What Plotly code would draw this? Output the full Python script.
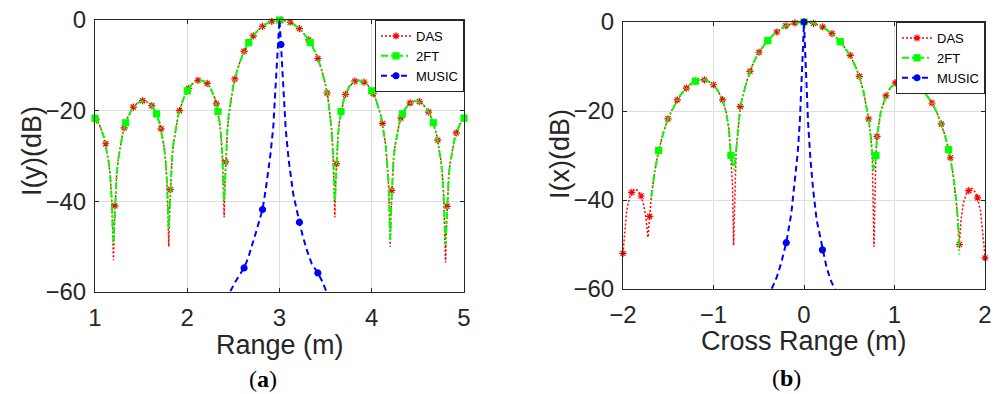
import plotly.graph_objects as go

FONT = "Liberation Sans, Arial, sans-serif"
INK = "#262626"
RED, GREEN, BLUE = "#ff0000", "#00ff00", "#0000ff"
SERIES = ["DAS", "2FT", "MUSIC"]

# ---------------- (a) Range profile ----------------
range_x = [1.00, 1.05, 1.10, 1.15, 1.165, 1.18, 1.19, 1.20, 1.21, 1.22,
           1.235, 1.25, 1.30, 1.35, 1.40, 1.45, 1.50, 1.55, 1.60, 1.65,
           1.70, 1.75, 1.765, 1.78, 1.79, 1.80, 1.81, 1.82, 1.835, 1.85,
           1.90, 1.95, 2.00, 2.05, 2.10, 2.15, 2.20, 2.25, 2.30, 2.35,
           2.365, 2.38, 2.39, 2.40, 2.41, 2.42, 2.435, 2.45, 2.475, 2.50,
           2.55, 2.60, 2.65, 2.70, 2.75, 2.80, 2.85, 2.90, 2.95, 3.00,
           3.05, 3.10, 3.15, 3.20, 3.25, 3.30, 3.35, 3.40, 3.45, 3.50,
           3.525, 3.55, 3.565, 3.58, 3.59, 3.60, 3.61, 3.62, 3.635, 3.65,
           3.70, 3.75, 3.80, 3.85, 3.90, 3.95, 4.00, 4.05, 4.10, 4.15,
           4.165, 4.18, 4.19, 4.20, 4.21, 4.22, 4.235, 4.25, 4.30, 4.35,
           4.40, 4.45, 4.50, 4.55, 4.60, 4.65, 4.70, 4.75, 4.765, 4.78,
           4.79, 4.80, 4.81, 4.82, 4.835, 4.85, 4.90, 4.95, 5.00]
range_das = [-21.65, -23.2, -26.0, -31.5, -34.4, -39.2, -45.2, -53.0, -45.1, -39.0,
             -34.1, -31.0, -25.0, -21.7, -19.7, -18.5, -17.9, -17.9, -18.55, -20.0,
             -22.7, -28.1, -31.0, -35.7, -41.7, -50.0, -41.5, -35.4, -30.5, -27.3,
             -21.2, -17.8, -15.6, -14.2, -13.5, -13.3, -13.7, -14.9, -17.3, -22.4,
             -25.2, -29.8, -35.7, -43.5, -35.4, -29.3, -24.2, -20.9, -17.1, -14.4,
             -10.5, -7.67, -5.56, -3.92, -2.64, -1.65, -0.91, -0.40, -0.10, 0.0,
             -0.10, -0.40, -0.91, -1.65, -2.64, -3.92, -5.56, -7.67, -10.5, -14.4,
             -17.1, -20.9, -24.2, -29.3, -35.4, -43.5, -35.7, -29.8, -25.2, -22.4,
             -17.3, -14.9, -13.7, -13.3, -13.5, -14.2, -15.6, -17.8, -21.2, -27.3,
             -30.5, -35.4, -41.5, -50.0, -41.7, -35.7, -31.0, -28.1, -22.7, -20.0,
             -18.55, -17.9, -17.9, -18.5, -19.7, -21.7, -25.0, -31.0, -34.1, -39.0,
             -45.1, -53.5, -45.2, -39.2, -34.4, -31.5, -26.0, -23.2, -21.65]
range_2ft = [-21.65, -23.2, -26.0, -31.5, -34.4, -39.2, -45.2, -49.0, -45.1, -39.0,
             -34.1, -31.0, -25.0, -21.7, -19.7, -18.5, -17.9, -17.9, -18.55, -20.0,
             -22.7, -28.1, -31.0, -35.7, -41.7, -46.2, -41.5, -35.4, -30.5, -27.3,
             -21.2, -17.8, -15.6, -14.2, -13.5, -13.3, -13.7, -14.9, -17.3, -22.4,
             -25.2, -29.8, -35.7, -40.0, -35.4, -29.3, -24.2, -20.9, -17.1, -14.4,
             -10.5, -7.67, -5.56, -3.92, -2.64, -1.65, -0.91, -0.40, -0.10, 0.0,
             -0.10, -0.40, -0.91, -1.65, -2.64, -3.92, -5.56, -7.67, -10.5, -14.4,
             -17.1, -20.9, -24.2, -29.3, -35.4, -40.0, -35.7, -29.8, -25.2, -22.4,
             -17.3, -14.9, -13.7, -13.3, -13.5, -14.2, -15.6, -17.8, -21.2, -27.3,
             -30.5, -35.4, -41.5, -48.5, -41.7, -35.7, -31.0, -28.1, -22.7, -20.0,
             -18.55, -17.9, -17.9, -18.5, -19.7, -21.7, -25.0, -31.0, -34.1, -39.0,
             -45.1, -49.6, -45.2, -39.2, -34.4, -31.5, -26.0, -23.2, -21.65]
range_das_mk_x = [1.016, 1.116, 1.216, 1.316, 1.416, 1.516, 1.616, 1.716, 1.816, 1.916,
                  2.016, 2.116, 2.216, 2.316, 2.416, 2.516, 2.616, 2.716, 2.816, 2.916,
                  3.016, 3.116, 3.216, 3.316, 3.416, 3.516, 3.616, 3.716, 3.816, 3.916,
                  4.016, 4.116, 4.216, 4.316, 4.416, 4.516, 4.616, 4.716, 4.816, 4.916]
range_das_mk_y = [-22.0, -27.3, -41.0, -23.8, -19.2, -17.8, -18.9, -24.0, -37.4, -20.0,
                  -15.1, -13.3, -14.0, -18.5, -31.3, -13.0, -6.9, -3.5, -1.4, -0.3,
                  0.0, -0.5, -1.9, -4.4, -8.5, -16.1, -31.7, -16.4, -13.5, -13.7,
                  -16.2, -22.8, -37.6, -21.6, -18.3, -18.0, -20.3, -26.5, -41.1, -24.9]
range_2ft_mk_x = [1.0, 1.333, 1.667, 2.0, 2.333, 2.667, 3.0, 3.333, 3.667, 4.0, 4.333, 4.667, 5.0]
range_2ft_mk_y = [-21.65, -22.66, -20.72, -15.64, -20.18, -4.97, 0.0, -4.97, -20.18, -15.64,
                  -20.72, -22.66, -21.65]
range_music_x = [2.40, 2.463, 2.52, 2.566, 2.616, 2.66, 2.70, 2.75, 2.816, 2.85,
                 2.90, 2.933, 2.96, 2.984, 3.0, 3.016, 3.04, 3.067, 3.10, 3.15,
                 3.216, 3.25, 3.30, 3.35, 3.416, 3.46, 3.511, 3.56]
range_music = [-64.0, -60.0, -57.8, -56.3, -54.7, -52.5, -50.0, -46.5, -41.8, -37.5,
               -30.0, -23.5, -13.7, -5.4, 0.0, -5.4, -13.7, -24.0, -31.0, -38.5,
               -44.6, -47.5, -51.0, -53.8, -55.8, -57.5, -60.0, -63.0]
range_music_mk_x = [2.616, 2.816, 3.016, 3.216, 3.416]
range_music_mk_y = [-54.7, -41.8, -5.4, -44.6, -55.8]

# ---------------- (b) Cross-range profile ----------------
cross_das_x = [-2.0, -1.98, -1.96, -1.93, -1.904, -1.87, -1.84, -1.80, -1.77, -1.745,
               -1.724, -1.706, -1.687, -1.65, -1.606, -1.55, -1.503, -1.45, -1.40, -1.35,
               -1.30, -1.25, -1.20, -1.15, -1.10, -1.05, -1.00, -0.95, -0.90, -0.86,
               -0.83, -0.807, -0.79, -0.778, -0.765, -0.75, -0.704, -0.65, -0.597, -0.55,
               -0.497, -0.45, -0.40, -0.35, -0.30, -0.25, -0.20, -0.15, -0.10, -0.05,
               0.0, 0.05, 0.106, 0.15, 0.206, 0.25, 0.309, 0.35, 0.40, 0.45,
               0.511, 0.56, 0.611, 0.66, 0.714, 0.74, 0.755, 0.773, 0.785, 0.795,
               0.807, 0.85, 0.906, 0.95, 1.009, 1.06, 1.108, 1.15, 1.20, 1.25,
               1.315, 1.36, 1.414, 1.47, 1.517, 1.56, 1.598, 1.617, 1.65, 1.68,
               1.70, 1.717, 1.735, 1.76, 1.79, 1.82, 1.856, 1.89, 1.918, 1.95,
               1.975, 1.99, 2.0]
cross_das = [-52.0, -46.5, -42.5, -39.6, -38.3, -37.5, -37.8, -39.1, -41.2, -44.2,
             -48.4, -43.7, -39.3, -33.6, -28.9, -24.6, -21.75, -19.4, -17.5, -16.0,
             -14.85, -13.9, -13.3, -13.0, -13.0, -13.4, -14.1, -15.5, -17.5, -20.3,
             -24.0, -30.0, -36.5, -50.2, -36.5, -29.0, -19.0, -14.6, -11.1, -8.8,
             -6.8, -5.4, -4.2, -3.1, -2.25, -1.5, -0.85, -0.45, -0.2, -0.05,
             0.0, -0.05, -0.3, -0.6, -1.1, -1.7, -2.6, -3.4, -4.4, -5.8,
             -7.5, -9.6, -12.2, -15.8, -21.8, -26.0, -31.0, -50.5, -35.0, -30.0,
             -25.7, -20.0, -16.6, -14.9, -13.7, -13.2, -13.0, -13.2, -13.7, -14.4,
             -15.4, -16.6, -18.2, -20.4, -22.9, -25.6, -28.7, -30.5, -34.6, -39.6,
             -44.0, -50.0, -44.5, -40.8, -38.8, -37.9, -37.4, -38.2, -39.5, -42.5,
             -46.8, -50.5, -53.0]
cross_das_mk_x = [-2.0, -1.904, -1.80, -1.706, -1.606, -1.503, -1.40, -1.30, -1.20, -1.10,
                  -1.00, -0.90, -0.807, -0.704, -0.597, -0.497, -0.40, -0.30, -0.20, -0.10,
                  0.0, 0.106, 0.206, 0.309, 0.40, 0.511, 0.611, 0.714, 0.807, 0.906,
                  1.009, 1.108, 1.20, 1.315, 1.414, 1.517, 1.617, 1.717, 1.82, 1.918, 2.0]
cross_das_mk_y = [-52.0, -38.3, -39.1, -43.7, -28.9, -21.75, -17.5, -14.85, -13.3, -13.0,
                  -14.1, -17.5, -30.0, -19.0, -11.1, -6.8, -4.2, -2.25, -0.85, -0.2,
                  0.0, -0.3, -1.1, -2.6, -4.4, -7.5, -12.2, -21.8, -25.7, -16.6,
                  -13.7, -13.0, -13.7, -15.4, -18.2, -22.9, -30.5, -50.0, -37.9, -39.5, -53.0]
cross_2ft_x = [-1.687, -1.65, -1.606, -1.55, -1.503, -1.45, -1.40, -1.35, -1.30, -1.25,
               -1.20, -1.15, -1.10, -1.05, -1.00, -0.95, -0.90, -0.86, -0.83, -0.807,
               -0.79, -0.772, -0.755, -0.704, -0.65, -0.597, -0.55, -0.497, -0.45, -0.40,
               -0.35, -0.30, -0.25, -0.20, -0.15, -0.10, -0.05, 0.0, 0.05, 0.106,
               0.15, 0.206, 0.25, 0.309, 0.35, 0.40, 0.45, 0.511, 0.56, 0.611,
               0.66, 0.714, 0.74, 0.755, 0.77, 0.783, 0.795, 0.807, 0.85, 0.906,
               0.95, 1.009, 1.06, 1.108, 1.15, 1.20, 1.25, 1.315, 1.36, 1.414,
               1.47, 1.517, 1.56, 1.598, 1.617, 1.65, 1.68, 1.70, 1.717]
cross_2ft = [-39.3, -33.6, -28.9, -24.6, -21.75, -19.4, -17.5, -16.0, -14.85, -13.9,
             -13.3, -13.0, -13.0, -13.4, -14.1, -15.5, -17.5, -20.3, -24.0, -30.0,
             -31.8, -33.2, -30.0, -19.0, -14.6, -11.1, -8.8, -6.8, -5.4, -4.2,
             -3.1, -2.25, -1.5, -0.85, -0.45, -0.2, -0.05, 0.0, -0.05, -0.3,
             -0.6, -1.1, -1.7, -2.6, -3.4, -4.4, -5.8, -7.5, -9.6, -12.2,
             -15.8, -21.8, -26.0, -31.0, -33.4, -32.0, -30.0, -25.7, -20.0, -16.6,
             -14.9, -13.7, -13.2, -13.0, -13.2, -13.7, -14.4, -15.4, -16.6, -18.2,
             -20.4, -22.9, -25.6, -28.7, -30.5, -34.6, -39.6, -44.5, -52.3]
cross_2ft_mk_x = [-1.606, -1.20, -0.807, -0.40, 0.0, 0.40, 0.795, 1.20, 1.598]
cross_2ft_mk_y = [-28.9, -13.3, -30.0, -4.2, 0.0, -4.4, -30.0, -13.7, -28.7]
cross_music_x = [-0.40, -0.357, -0.30, -0.25, -0.196, -0.14, -0.10, -0.07, -0.045, -0.025,
                 -0.01, 0.0, 0.01, 0.025, 0.045, 0.07, 0.10, 0.14, 0.204, 0.25,
                 0.30, 0.343, 0.40]
cross_music = [-62.0, -60.0, -57.3, -54.0, -49.6, -43.0, -36.0, -29.5, -22.0, -12.5,
               -5.0, 0.0, -5.0, -12.5, -22.5, -30.5, -37.5, -44.5, -51.2, -55.2,
               -58.3, -60.0, -63.0]
cross_music_mk_x = [-0.196, 0.0, 0.204]
cross_music_mk_y = [-49.6, 0.0, -51.2]

for a, b in [(range_x, range_das), (range_x, range_2ft), (range_das_mk_x, range_das_mk_y),
             (range_2ft_mk_x, range_2ft_mk_y), (range_music_x, range_music),
             (cross_das_x, cross_das), (cross_das_mk_x, cross_das_mk_y),
             (cross_2ft_x, cross_2ft), (cross_music_x, cross_music)]:
    assert len(a) == len(b), (len(a), len(b))

STYLE = {
    "DAS": dict(color=RED, width=1.5, dash="2px,2px", symbol="asterisk-open", size=6),
    "2FT": dict(color=GREEN, width=2, dash="7px,3px,2px,3px", symbol="square", size=6),
    "MUSIC": dict(color=BLUE, width=2, dash="6px,4px", symbol="circle", size=6),
}

fig = go.Figure()


def add_series(name, lx, ly, mx, my, xa, ya, legend):
    s = STYLE[name]
    line = dict(color=s["color"], width=s["width"], dash=s["dash"])
    marker = dict(color=s["color"], symbol=s["symbol"], size=s["size"],
                  line=dict(color=s["color"], width=1.2))
    fig.add_trace(go.Scatter(x=lx, y=ly, mode="lines", line=line, xaxis=xa, yaxis=ya,
                             showlegend=False, hoverinfo="skip"))
    fig.add_trace(go.Scatter(x=mx, y=my, mode="markers", marker=marker, xaxis=xa, yaxis=ya,
                             showlegend=False, cliponaxis=False, hoverinfo="skip"))
    fig.add_trace(go.Scatter(x=[None], y=[None], mode="lines+markers", name=name,
                             line=line, marker=marker, xaxis=xa, yaxis=ya, legend=legend))


add_series("DAS", range_x, range_das, range_das_mk_x, range_das_mk_y, "x", "y", "legend")
add_series("2FT", range_x, range_2ft, range_2ft_mk_x, range_2ft_mk_y, "x", "y", "legend")
add_series("MUSIC", range_music_x, range_music, range_music_mk_x, range_music_mk_y, "x", "y", "legend")
add_series("DAS", cross_das_x, cross_das, cross_das_mk_x, cross_das_mk_y, "x2", "y2", "legend2")
add_series("2FT", cross_2ft_x, cross_2ft, cross_2ft_mk_x, cross_2ft_mk_y, "x2", "y2", "legend2")
add_series("MUSIC", cross_music_x, cross_music, cross_music_mk_x, cross_music_mk_y, "x2", "y2", "legend2")

W, H = 998, 394
L1 = dict(l=95, r=464, t=20, b=292)
L2 = dict(l=623, r=985, t=22, b=289)

axis_common = dict(showline=True, linecolor=INK, linewidth=1, mirror="ticks",
                   ticks="inside", ticklen=4, tickcolor=INK, showgrid=True,
                   gridcolor="#dedede", gridwidth=1, zeroline=False, automargin=False,
                   tickfont=dict(family=FONT, size=24, color=INK))

legend_common = dict(xanchor="right", yanchor="top", bgcolor="white", bordercolor=INK,
                     borderwidth=1, font=dict(family=FONT, size=13, color="black"),
                     tracegroupgap=0)

fig.update_layout(
    width=W, height=H, margin=dict(l=0, r=0, t=0, b=0, pad=0, autoexpand=False),
    autosize=False, paper_bgcolor="white", plot_bgcolor="white",
    xaxis=dict(domain=[L1["l"] / W, L1["r"] / W], anchor="y", range=[1, 5],
               tickvals=[1, 2, 3, 4, 5], ticklabelstandoff=4, **axis_common),
    yaxis=dict(domain=[1 - L1["b"] / H, 1 - L1["t"] / H], anchor="x", range=[-60, 0],
               tickvals=[-60, -40, -20, 0], ticklabelstandoff=3, **axis_common),
    xaxis2=dict(domain=[L2["l"] / W, L2["r"] / W], anchor="y2", range=[-2, 2],
                tickvals=[-2, -1, 0, 1, 2], ticklabelstandoff=4, **axis_common),
    yaxis2=dict(domain=[1 - L2["b"] / H, 1 - L2["t"] / H], anchor="x2", range=[-60, 0],
                tickvals=[-60, -40, -20, 0], ticklabelstandoff=3, **axis_common),
    legend=dict(x=L1["r"] / W, y=1 - L1["t"] / H, **legend_common),
    legend2=dict(x=L2["r"] / W, y=1 - L2["t"] / H, **legend_common),
)

title_font = dict(family=FONT, size=27, color=INK)
label_font = dict(family="Liberation Serif, Times New Roman, serif", size=24, color="black")
annots = [
    ("Range (m)", 279.5, 345, 0, title_font),
    ("Cross Range (m)", 804, 341, 0, title_font),
    ("I(y)(dB)", 32, 151, -90, title_font),
    ("I(x)(dB)", 560, 154, -90, title_font),
    ("(<b>a</b>)", 262.5, 379, 0, label_font),
    ("(<b>b</b>)", 786, 378, 0, label_font),
]
for text, px, py, ang, f in annots:
    fig.add_annotation(text=text, x=px / W, y=1 - py / H, xref="paper", yref="paper",
                       xanchor="center", yanchor="middle", showarrow=False,
                       textangle=ang, font=f)

fig.write_html("out.html")
